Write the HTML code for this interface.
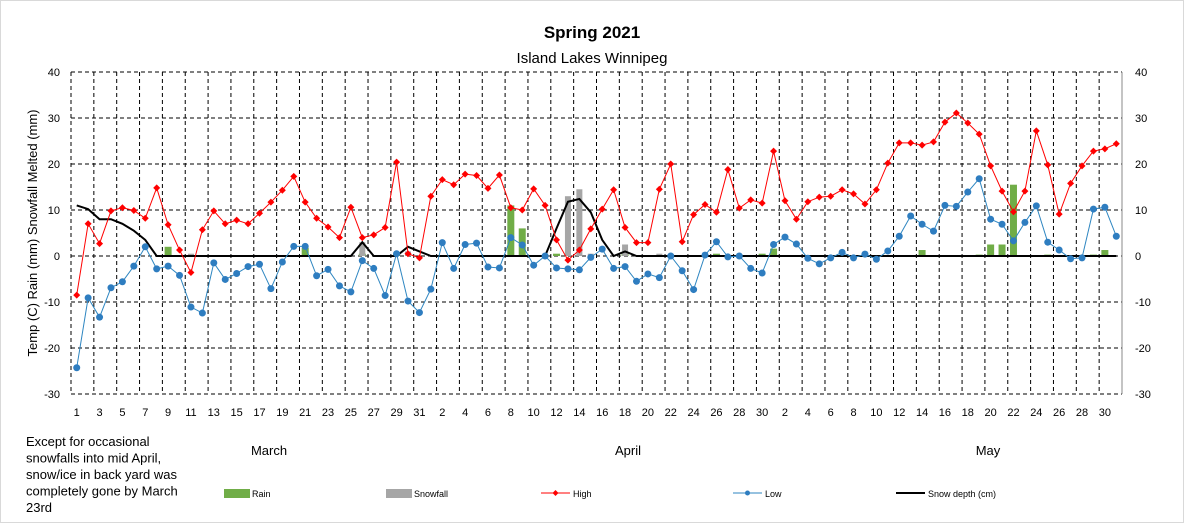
<!DOCTYPE html>
<html><head><meta charset="utf-8"><style>
html,body{margin:0;padding:0;background:#fff}
#c{position:relative;width:1184px;height:523px;overflow:hidden}
</style></head><body><div id="c">
<svg id="s" width="1184" height="523" xmlns="http://www.w3.org/2000/svg" font-family="Liberation Sans, sans-serif"></svg>
</div>
<script>
var H=[-8.5,7,2.7,9.8,10.5,9.9,8.2,14.8,6.8,1.3,-3.6,5.7,9.8,7,7.8,7,9.3,11.7,14.3,17.3,11.7,8.2,6.3,4,10.6,4,4.6,6.2,20.4,0.5,-0.4,
13,16.6,15.5,17.8,17.5,14.7,17.6,10.5,10,14.6,11,3.5,-0.9,1.3,5.9,10.2,14.4,6.2,2.9,2.9,14.5,20,3.1,9,11.2,9.5,18.8,10.4,12.2,11.5,
22.8,12,8,11.8,12.8,13,14.4,13.5,11.3,14.4,20.2,24.6,24.6,24.1,24.8,29.1,31.1,28.9,26.5,19.6,14.1,9.6,14.1,27.2,19.8,9.1,15.8,19.6,22.8,23.3,24.4];
var L=[-24.3,-9.1,-13.3,-6.9,-5.6,-2.2,2,-2.8,-2.2,-4.2,-11.1,-12.4,-1.5,-5.1,-3.8,-2.3,-1.8,-7.1,-1.3,2.1,2.1,-4.3,-2.9,-6.5,-7.8,-1,-2.7,-8.6,0.5,-9.8,-12.3,
-7.2,2.9,-2.7,2.5,2.8,-2.4,-2.6,4,2.4,-2,0,-2.6,-2.8,-3,-0.3,1.5,-2.7,-2.3,-5.5,-3.9,-4.7,0,-3.2,-7.3,0.2,3.1,-0.2,0,-2.7,-3.7,
2.5,4.1,2.6,-0.5,-1.7,-0.4,0.8,-0.4,0.4,-0.7,1.1,4.3,8.7,6.9,5.4,11,10.8,13.9,16.8,8,6.9,3.3,7.3,10.9,3,1.3,-0.6,-0.4,10.2,10.6,4.3];
var S=new Array(92).fill(0);
[[0,11],[1,10.2],[2,8],[3,8],[4,7],[5,5.5],[6,3.5],[25,3],[29,2],[30,1],[42,6],[43,11.8],[44,12.4],[45,9.5],[46,3.5],[48,1]].forEach(function(a){S[a[0]]=a[1]});
var R={8:2,20:1.8,25:0.5,28:0.4,38:11,39:6,42:0.5,48:0.5,56:0.5,60:0.5,61:1.6,74:1.3,79:0.3,80:2.5,81:2.5,82:15.5,85:0.3,89:0.3,90:1.3};
var SF={10:0.5,25:3,29:1,43:13,44:14.5,45:0.5,48:2.5,51:0.5};
var X0=71,DW=1051/92,Y0=256,K=4.6;
function x(i){return X0+DW*(i+0.5)}function y(v){return Y0-v*K}
var o='';
o+='<rect x="0.5" y="0.5" width="1183" height="522" fill="#fff" stroke="#d9d9d9"/>';
for(var k=0;k<=7;k++){var yy=72+46*k;o+='<line x1="71" x2="1122" y1="'+yy+'" y2="'+yy+'" stroke="#000" stroke-width="1" stroke-dasharray="4,3"/>';}
for(var k=0;k<=46;k++){var xx=X0+DW*2*k;o+='<line x1="'+xx+'" x2="'+xx+'" y1="72" y2="394" stroke="#000" stroke-width="1" stroke-dasharray="4,3"/>';}
o+='<line x1="1122" x2="1122" y1="72" y2="394" stroke="#888"/>';
for(var k=0;k<=7;k++){var v=40-10*k,yy=72+46*k+4;o+='<text x="60" y="'+yy+'" font-size="11" text-anchor="end">'+v+'</text><text x="1135" y="'+yy+'" font-size="11">'+v+'</text>';}
for(var i in R){var h=R[i]*K;o+='<rect x="'+(x(+i)-3.5)+'" y="'+(Y0-h)+'" width="7" height="'+h+'" fill="#70ad47"/>';}
for(var i in SF){var h=SF[i]*K;o+='<rect x="'+(x(+i)-3)+'" y="'+(Y0-h)+'" width="6" height="'+h+'" fill="#a6a6a6"/>';}
var p=S.map(function(v,i){return x(i)+','+y(v)}).join(' ');
o+='<polyline points="'+p+'" fill="none" stroke="#000" stroke-width="2"/>';
p=H.map(function(v,i){return x(i)+','+y(v)}).join(' ');
o+='<polyline points="'+p+'" fill="none" stroke="#ff0000" stroke-width="1"/>';
H.forEach(function(v,i){var a=x(i),b=y(v);o+='<polygon points="'+a+','+(b-3.5)+' '+(a+3.5)+','+b+' '+a+','+(b+3.5)+' '+(a-3.5)+','+b+'" fill="#ff0000"/>';});
p=L.map(function(v,i){return x(i)+','+y(v)}).join(' ');
o+='<polyline points="'+p+'" fill="none" stroke="#2e86c1" stroke-width="1"/>';
L.forEach(function(v,i){o+='<circle cx="'+x(i)+'" cy="'+y(v)+'" r="3.5" fill="#2e7dc0"/>';});
var lab=[];for(var d=1;d<=31;d+=2)lab.push([d-1,d]);for(var d=2;d<=30;d+=2)lab.push([30+d,d]);for(var d=2;d<=30;d+=2)lab.push([60+d,d]);
lab.forEach(function(a){o+='<text x="'+x(a[0])+'" y="416" font-size="11" text-anchor="middle">'+a[1]+'</text>';});
o+='<text x="592" y="38" font-size="17" font-weight="bold" text-anchor="middle">Spring  2021</text>';
o+='<text x="592" y="63" font-size="15" text-anchor="middle">Island Lakes Winnipeg</text>';
o+='<text transform="translate(37,233) rotate(-90)" font-size="13" text-anchor="middle">Temp (C) Rain (mm) Snowfall Melted (mm)</text>';
o+='<text x="269" y="455" font-size="13" text-anchor="middle">March</text><text x="628" y="455" font-size="13" text-anchor="middle">April</text><text x="988" y="455" font-size="13" text-anchor="middle">May</text>';
var t=['Except for occasional','snowfalls into  mid April,','snow/ice  in back yard was','completely gone by March','23rd'];
t.forEach(function(s,j){o+='<text x="26" y="'+(446+16.5*j)+'" font-size="13">'+s+'</text>';});
o+='<rect x="224" y="489" width="26" height="9" fill="#70ad47"/><text x="252" y="497" font-size="9">Rain</text>';
o+='<rect x="386" y="489" width="26" height="9" fill="#a6a6a6"/><text x="414" y="497" font-size="9">Snowfall</text>';
o+='<line x1="541" x2="570" y1="493" y2="493" stroke="#f00"/><polygon points="555.5,490 558.5,493 555.5,496 552.5,493" fill="#f00"/><text x="573" y="497" font-size="9">High</text>';
o+='<line x1="733" x2="762" y1="493" y2="493" stroke="#2e86c1"/><circle cx="747.5" cy="493" r="2.5" fill="#2e7dc0"/><text x="765" y="497" font-size="9">Low</text>';
o+='<line x1="896" x2="925" y1="493" y2="493" stroke="#000" stroke-width="2"/><text x="928" y="497" font-size="9">Snow depth (cm)</text>';
document.getElementById('s').innerHTML=o;
</script></body></html>
